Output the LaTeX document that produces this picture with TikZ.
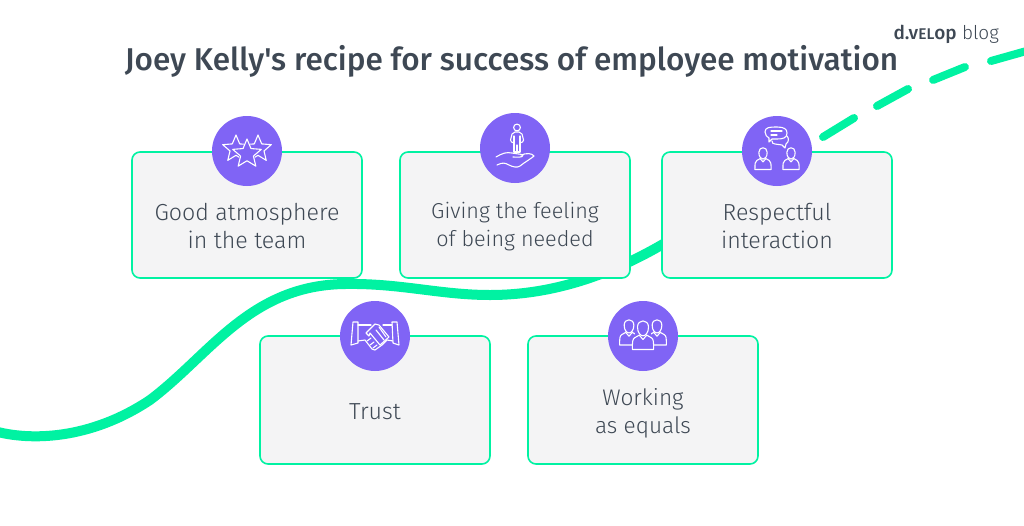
\documentclass[tikz,border=0pt]{standalone}
\usepackage{fontspec}
\setmainfont{Fira Sans}[UprightFont=* Light,BoldFont=* Medium]
\newfontfamily\titlefont{Fira Sans}[UprightFont=* Medium]
\definecolor{mint}{HTML}{00F2A2}
\definecolor{violet}{HTML}{8064F5}
\definecolor{panel}{HTML}{F4F4F5}
\definecolor{ink}{HTML}{3E4854}
\newcommand{\starline}[3]{% cx cy r
  plot[samples=11,domain=0:360] ({#1+#3*(1-0.55*mod(round(\x/36),2))*sin(\x)},{#2-#3*(1-0.55*mod(round(\x/36),2))*cos(\x)}) -- cycle}
\newcommand{\person}[3]{% cx cy scale
  \begin{scope}[shift={(#1,#2)},scale=#3]
    \draw[icon] (-4.4,-8) .. controls (-4.4,-14.5) and (4.4,-14.5) .. (4.4,-8) .. controls (4.4,-3) and (1.8,-1) .. (0,-1) .. controls (-1.8,-1) and (-4.4,-3) .. (-4.4,-8) -- cycle;
    \draw[icon] (-3,-1.5) -- (-6.5,0.5) .. controls (-8.5,1.5) and (-8.5,4) .. (-8.5,10) -- (8.5,10) .. controls (8.5,4) and (8.5,1.5) .. (6.5,0.5) -- (3,-1.5) -- (0,2) -- cycle;
  \end{scope}}
\tikzset{
  panelbox/.style={draw=mint,line width=1.6pt,fill=panel,rounded corners=8pt,minimum width=230pt,minimum height=126pt,inner sep=0pt},
  badge/.style={circle,fill=violet,minimum size=70pt,inner sep=0pt},
  label/.style={font=\fontsize{23.2}{28.5}\selectfont,text=ink,align=center},
  narrowlabel/.style={font=\fontsize{21.6}{28.5}\selectfont,text=ink,align=center},
  icon/.style={draw=white,line width=1.1pt,line join=round,line cap=round},
  curve/.style={draw=mint,line width=10pt}
}
\begin{document}
\begin{tikzpicture}[x=1pt,y=-1pt]
\useasboundingbox (0,0) rectangle (1024,525);
% curve
\draw[curve] (-6,431) .. controls (30,441) and (90,440) .. (150,400) .. controls (210,355) and (250,285) .. (345,284) .. controls (400,283) and (440,295) .. (490,295) .. controls (560,295) and (620,270) .. (670,240);
\foreach \a/\b/\c/\d in {823/137/854/118, 877/106/908/89, 933/80/965/67, 991/61/1030/50}
  \draw[curve,line width=8pt,line cap=round] (\a,\b) -- (\c,\d);
% boxes
\node[panelbox] (good) at (247,215) {};
\node[panelbox] (give) at (515,215) {};
\node[panelbox] (resp) at (777,215) {};
\node[panelbox,minimum height=128pt] (trust) at (375,400) {};
\node[panelbox,minimum height=128pt] (work) at (643,400) {};
% labels
\node[label] (l1) at (247,226) {Good atmosphere\\in the team};
\node[narrowlabel] (l2) at (515,226.5) {Giving the feeling\\of being needed};
\node[label] (l3) at (777,226) {Respectful\\interaction};
\node[label] (l4) at (375,412) {Trust};
\node[label,font=\fontsize{22.6}{28.5}\selectfont] (l5) at (643,413.5) {Working\\as equals};
% badges
\node[badge] (b1) at (247,151) {};
\node[badge] (b2) at (515,148) {};
\node[badge] (b3) at (777,151) {};
\node[badge] (b4) at (375,336) {};
\node[badge] (b5) at (643,336) {};
% stars
\draw[icon] \starline{236}{149}{14};
\draw[icon] \starline{258}{149}{14};
\fill[violet] \starline{247}{154}{17.5};
\draw[icon] \starline{247}{154}{15};
% person on hand
\begin{scope}[shift={(515,148)}]
  \draw[icon] (2,-20.5) circle (3.4);
  \draw[icon] (-1,-5) -- (-1,4) -- (5,4) -- (5,-5);
  \draw[icon] (2,-3) -- (2,4);
  \draw[icon] (-1,-5) -- (-3.5,-6) -- (-4.5,-8) -- (-3,-14) -- (0,-16) -- (4,-16) -- (7,-14) -- (8.5,-8) -- (7.5,-6) -- (5,-5);
  \draw[icon] (-1,-12) -- (-1,-5) (5,-12) -- (5,-5);
  \draw[icon] (-19,9) .. controls (-12,5) and (-9,4) .. (-3,5) .. controls (2,6) and (6,6) .. (8,7) .. controls (8,10) and (2,9) .. (-2,9);
  \draw[icon] (-18,17) .. controls (-12,14) and (-10,15) .. (-6,17) .. controls (-2,19) and (2,20) .. (5,18) .. controls (10,14) and (17,10) .. (19,8) .. controls (17,5) and (11,5) .. (6,7);
\end{scope}
% speech + people
\begin{scope}[shift={(777,151)}]
  \draw[icon] (-12,-19) .. controls (-12,-24) and (-7,-24) .. (0,-24) .. controls (7,-24) and (10,-22) .. (10,-18) .. controls (10,-13) and (6,-12) .. (0,-12) -- (-5,-12) -- (-8,-9) -- (-8,-13) .. controls (-10,-14) and (-12,-16) .. (-12,-19) -- cycle;
  \draw[icon] (-6,-20) -- (5,-20) (-6,-16) -- (0,-16);
  \draw[icon] (10,-15) .. controls (12,-13) and (12,-9) .. (9,-7) -- (8,-3) -- (5,-6) -- (-2,-7) .. controls (-4,-7) and (-5,-8) .. (-5,-10);
\end{scope}
\person{763}{160}{0.95}
\person{791}{160}{0.95}
% handshake
\begin{scope}[shift={(375,336)}]
  \draw[icon] (-22,-14) -- (-17,-14) -- (-17,7) -- (-24,9) -- cycle;
  \draw[icon] (22,-14) -- (17,-14) -- (18,7) -- (24,9) -- cycle;
  \draw[icon] (-17,-11) -- (-4,-11) (17,-11) -- (8,-11);
  \draw[icon] (-17,5) -- (-10,4) -- (-3,13) -- (0,14) -- (7,9) -- (12,4) -- (18,5);
  \draw[icon] (-9,-3) -- (0,-12) -- (4,-11) -- (14,1) -- (5,9) -- (-5,-3) -- (-6,0) -- cycle;
  \draw[icon] (1,-6) -- (9,4) (4,-9) -- (11,1);
  \draw[icon] (-8,5) -- (-4,2) (-5,9) -- (-1,6) (-2,12) -- (2,9);
\end{scope}
% team
\person{629}{334}{1.1}
\person{657}{334}{1.1}
\fill[violet] (632,338) rectangle (654,353);
\fill[violet] (635,322) rectangle (651,340);
\person{643}{337}{1.25}
% title and logo
\node[font=\fontsize{31.5}{36}\selectfont\titlefont,text=ink,anchor=center] (title) at (511.5,61.5) {Joey Kelly's recipe for success of employee motivation};
\node[font=\fontsize{19}{22}\selectfont,text=ink,anchor=east,inner sep=0pt] (logo) at (999,34) {{\bfseries d.v{\fontsize{15.5}{22}\selectfont EL}op} blog};
\end{tikzpicture}
\end{document}
